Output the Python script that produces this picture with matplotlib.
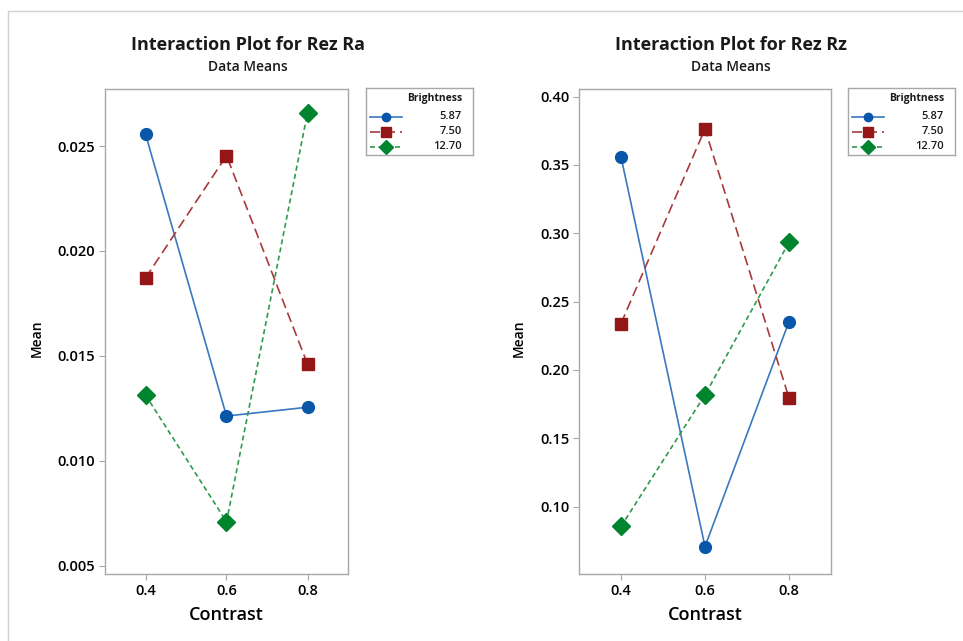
import matplotlib
matplotlib.use("Agg")
import matplotlib.pyplot as plt
from matplotlib.lines import Line2D

plt.rcParams["font.family"] = ["Open Sans", "DejaVu Sans"]

contrast = [0.4, 0.6, 0.8]
brightness = ["5.87", "7.50", "12.70"]

ra_means = {
    "5.87": [0.02557, 0.01213, 0.01255],
    "7.50": [0.01871, 0.02454, 0.01461],
    "12.70": [0.01313, 0.00709, 0.02659],
}
rz_means = {
    "5.87": [0.3559, 0.0707, 0.2354],
    "7.50": [0.2339, 0.3764, 0.1795],
    "12.70": [0.0854, 0.1817, 0.2934],
}

ra_ticks = [0.005, 0.010, 0.015, 0.020, 0.025]
rz_ticks = [0.10, 0.15, 0.20, 0.25, 0.30, 0.35, 0.40]

styles = {
    "5.87": dict(color="#0A56A8", marker="o", ls="-", ms=8.5, lms=6),
    "7.50": dict(color="#951616", marker="s", ls=(0, (6, 3)), ms=8.5, lms=6.5),
    "12.70": dict(color="#00842E", marker="D", ls=(0, (3, 2)), ms=9.5, lms=7),
}
line_colors = {"5.87": "#3A78C0", "7.50": "#A83A3A", "12.70": "#2E9A4E"}

W, H = 963, 641
fig = plt.figure(figsize=(W / 100, H / 100), dpi=100)

# screenshot frame
fig.add_artist(Line2D([8 / W, 1], [1 - 10.5 / H] * 2, color="#D0D0D0", lw=1))
fig.add_artist(Line2D([8 / W] * 2, [0, 1 - 10.5 / H], color="#D0D0D0", lw=1))

panels = [
    dict(title="Interaction Plot for Rez Ra", data=ra_means, ticks=ra_ticks,
         ylim=(0.0046, 0.02772), fmt="{:.3f}", ax_px=(105, 348), leg_px=366,
         title_x=248, ylabel_x=37),
    dict(title="Interaction Plot for Rez Rz", data=rz_means, ticks=rz_ticks,
         ylim=(0.0506, 0.4056), fmt="{:.2f}", ax_px=(579, 831), leg_px=848,
         title_x=731, ylabel_x=519),
]

spine_c = "#A8A8A8"
for p in panels:
    x0, x1 = p["ax_px"]
    ax = fig.add_axes([x0 / W, 1 - 574 / H, (x1 - x0) / W, (574 - 89) / H])
    for b in brightness:
        st = styles[b]
        ax.plot(contrast, p["data"][b], ls=st["ls"], color=line_colors[b], lw=1.2,
                marker=st["marker"], ms=st["ms"], mfc=st["color"], mec=st["color"])
    ax.set_xlim(0.3, 0.9)
    ax.set_ylim(*p["ylim"])
    ax.set_xticks(contrast)
    ax.set_xticklabels([f"{c:.1f}" for c in contrast])
    ax.set_yticks(p["ticks"])
    ax.set_yticklabels([p["fmt"].format(t) for t in p["ticks"]])
    ax.tick_params(length=4, color=spine_c, labelsize=10.5, pad=3)
    for lab in ax.get_xticklabels() + ax.get_yticklabels():
        lab.set_fontweight("semibold")
    for s in ax.spines.values():
        s.set_color(spine_c)
        s.set_linewidth(1)
    ax.set_xlabel("Contrast", fontsize=13, fontweight="semibold", labelpad=6)
    fig.text(p["ylabel_x"] / W, 1 - 338 / H, "Mean", rotation=90, fontsize=10,
             fontweight="semibold", ha="center", va="center")
    fig.text(p["title_x"] / W, 1 - 45 / H, p["title"], fontsize=13,
             fontweight="bold", ha="center", va="center", color="#1A1A1A")
    fig.text(p["title_x"] / W, 1 - 67 / H, "Data Means", fontsize=10,
             fontweight="semibold", ha="center", va="center", color="#1A1A1A")

    # legend box
    lx = p["leg_px"]
    lax = fig.add_axes([lx / W, 1 - 155 / H, 107 / W, 67 / H])
    lax.set_xlim(0, 107)
    lax.set_ylim(67, 0)
    lax.set_xticks([])
    lax.set_yticks([])
    for s in lax.spines.values():
        s.set_color(spine_c)
        s.set_linewidth(1)
    lax.text(96, 11, "Brightness", ha="right", va="center", fontsize=7.5,
             fontweight="bold", color="#1A1A1A")
    for i, b in enumerate(brightness):
        st = styles[b]
        y = 28.5 + i * 15
        lax.plot([4, 36], [y, y], ls=st["ls"], color=line_colors[b], lw=1.2)
        lax.plot([20], [y], marker=st["marker"], ms=st["lms"], color=st["color"], ls="none")
        lax.text(96, y, b, ha="right", va="center", fontsize=8,
                 fontweight="semibold", color="#1A1A1A")

fig.savefig("out.png", dpi=100)
